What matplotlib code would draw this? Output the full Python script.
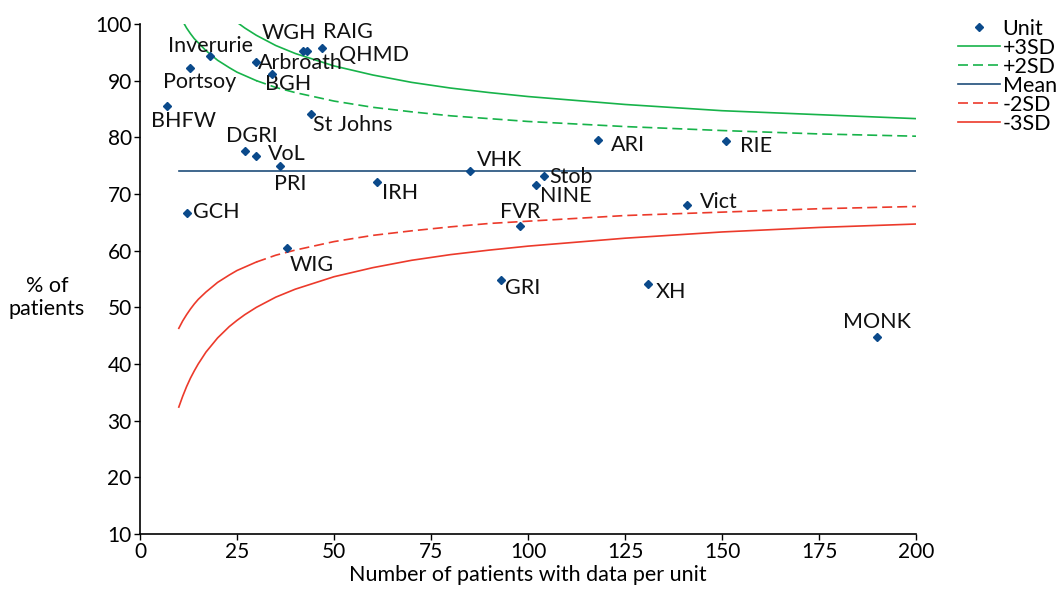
import matplotlib
matplotlib.use("Agg")
import matplotlib.pyplot as plt

plt.rcParams['font.family'] = ['Lato', 'DejaVu Sans']

# unit results: patients with data, % of patients
units = ['BHFW', 'GCH', 'Portsoy', 'Inverurie', 'DGRI', 'Arbroath', 'VoL', 'BGH',
         'PRI', 'WIG', 'WGH', 'QHMD', 'St Johns', 'RAIG', 'IRH', 'VHK', 'GRI',
         'FVR', 'NINE', 'Stob', 'ARI', 'XH', 'Vict', 'RIE', 'MONK']
n_patients = [7, 12, 13, 18, 27, 30, 30, 34, 36, 38, 42, 43, 44, 47, 61, 85, 93,
              98, 102, 104, 118, 131, 141, 151, 190]
pct = [85.6, 66.6, 92.3, 94.4, 77.6, 93.3, 76.7, 91.2, 74.9, 60.5, 95.3, 95.3,
       84.1, 95.7, 72.2, 74.1, 54.8, 64.3, 71.5, 73.1, 79.6, 54.2, 68.1, 79.4, 44.7]

mean_pct = 74.0

# control limits
n_lim = [10, 11, 12, 13, 14, 15, 17, 20, 23, 25, 27, 30, 35, 40, 50, 60, 70, 80,
         90, 100, 125, 150, 175, 200]
plus3 = [115.6, 113.7, 112.0, 110.5, 109.2, 108.0, 105.9, 103.4, 101.4, 100.3,
         99.3, 98.0, 96.2, 94.8, 92.6, 91.0, 89.7, 88.7, 87.9, 87.2, 85.8, 84.7,
         84.0, 83.3]
plus2 = [101.7, 100.5, 99.3, 98.3, 97.4, 96.7, 95.3, 93.6, 92.3, 91.5, 90.9,
         90.0, 88.8, 87.9, 86.4, 85.3, 84.5, 83.8, 83.3, 82.8, 81.9, 81.2, 80.6,
         80.2]
minus2 = [46.3, 47.6, 48.7, 49.7, 50.6, 51.4, 52.7, 54.4, 55.7, 56.5, 57.1, 58.0,
          59.2, 60.1, 61.6, 62.7, 63.5, 64.2, 64.8, 65.2, 66.2, 66.8, 67.4, 67.8]
minus3 = [32.4, 34.3, 36.0, 37.5, 38.8, 40.0, 42.1, 44.6, 46.6, 47.7, 48.7, 50.0,
          51.8, 53.2, 55.4, 57.0, 58.3, 59.3, 60.1, 60.8, 62.2, 63.3, 64.1, 64.7]

# label offsets in pixels (dx, dy) from the marker to the left/centre of the text
label_off = {
    'BHFW': (-16, -15), 'GCH': (6, 1), 'Portsoy': (-27, -14), 'Inverurie': (-42, 10),
    'DGRI': (-19, 15), 'Arbroath': (2, -1), 'VoL': (12, 2), 'BGH': (-7, -10),
    'PRI': (-6, -18), 'WIG': (2, -17), 'WGH': (-41, 18), 'QHMD': (32, -4),
    'St Johns': (2, -11), 'RAIG': (1, 16), 'IRH': (5, -11), 'VHK': (7, 11),
    'GRI': (4, -8), 'FVR': (-20, 14), 'NINE': (4, -10), 'Stob': (6, -1),
    'ARI': (13, -5), 'XH': (8, -8), 'Vict': (13, 3), 'RIE': (14, -5),
    'MONK': (-34, 15),
}

green = '#17b34a'
red = '#ec3a2b'
blue = '#0b4a8b'
mean_col = '#1f4e7a'
fs = 15.5

fig = plt.figure(figsize=(10.58, 5.89), dpi=100)
ax = fig.add_axes([140 / 1058, 55 / 589, 776 / 1058, 510 / 589])

# short segments below ~30 patients look solid in the original, dashed after
cut = n_lim.index(30)
dash = (0, (6, 3))

ax.plot(n_patients, pct, linestyle='none', marker='D', markersize=4.2,
        color=blue, label='Unit', zorder=5)
ax.plot(n_lim, plus3, color=green, lw=1.2, label='+3SD')
ax.plot(n_lim[:cut + 1], plus2[:cut + 1], color=green, lw=1.2)
ax.plot(n_lim[cut:], plus2[cut:], color=green, lw=1.2, ls=dash, label='+2SD')
ax.plot([10, 200], [mean_pct, mean_pct], color=mean_col, lw=1.2, label='Mean')
ax.plot(n_lim[:cut + 1], minus2[:cut + 1], color=red, lw=1.2)
ax.plot(n_lim[cut:], minus2[cut:], color=red, lw=1.2, ls=dash, label='-2SD')
ax.plot(n_lim, minus3, color=red, lw=1.2, label='-3SD')

for name, x, y in zip(units, n_patients, pct):
    dx, dy = label_off[name]
    ax.annotate(name, (x, y), xytext=(dx, dy), textcoords='offset pixels',
                ha='left', va='center', fontsize=fs, color='#111111')

ax.set_xlim(0, 200)
ax.set_ylim(10, 100)
ax.set_xticks(range(0, 201, 25))
ax.set_yticks(range(10, 101, 10))
ax.tick_params(labelsize=15, length=4, width=1, direction='out', pad=2)
for s in ['top', 'right']:
    ax.spines[s].set_visible(False)
for s in ['left', 'bottom']:
    ax.spines[s].set_linewidth(1.2)

ax.set_xlabel('Number of patients with data per unit', fontsize=fs)
ax.xaxis.set_label_coords(0.5, -0.081)
ax.xaxis.label.set_va('center')
ax.set_ylabel('% of\npatients', fontsize=fs, rotation=0, ha='center', va='center',
              multialignment='center')
ax.yaxis.set_label_coords(-0.12, 0.463)

handles, labels = ax.get_legend_handles_labels()
fig.legend(handles, labels, loc='upper left', bbox_to_anchor=(958 / 1058, 1 - 19 / 589),
           frameon=False, fontsize=fs, handlelength=1.95, handletextpad=0.12,
           labelspacing=-0.05, borderpad=0, borderaxespad=0)

fig.savefig('out.png', dpi=100)
